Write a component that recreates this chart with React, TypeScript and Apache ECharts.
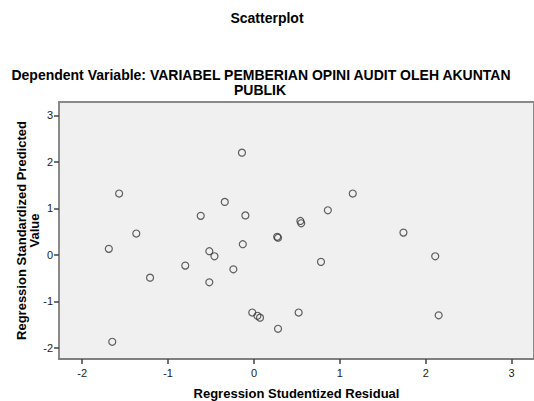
import React, { useEffect, useRef } from "react";
import * as echarts from "echarts";

const residuals = [
  -0.14, -1.57, -0.34, -0.62, -0.10, -1.37, 0.27, 0.28, -0.13, -1.69,
  -0.52, -0.46, -0.80, -0.24, -1.21, -0.52, -0.02, 0.04, 0.07, 0.52,
  0.28, -1.65, 1.15, 0.86, 0.54, 0.55, 1.74, 0.78, 2.11, 2.15,
];
const predicted = [
  2.20, 1.32, 1.14, 0.84, 0.85, 0.46, 0.39, 0.37, 0.23, 0.13,
  0.08, -0.03, -0.23, -0.31, -0.49, -0.59, -1.24, -1.31, -1.35, -1.24,
  -1.59, -1.87, 1.32, 0.96, 0.73, 0.68, 0.48, -0.15, -0.03, -1.30,
];
const xTicks = [-2, -1, 0, 1, 2, 3];
const yTicks = [-2, -1, 0, 1, 2, 3];

const FONT = "'Liberation Sans', Arial, sans-serif";

export default function App() {
  const ref = useRef<HTMLDivElement>(null);
  useEffect(() => {
    if (!ref.current) return;
    const chart = echarts.init(ref.current, undefined, { renderer: "svg" });
    const data = residuals.map((x, i) => [x, predicted[i]]);
    const titleStyle = { fontFamily: FONT, fontSize: 14, fontWeight: "bold", color: "#000", lineHeight: 15 };
    chart.setOption({
      animation: false,
      backgroundColor: "#ffffff",
      title: [
        { text: "Scatterplot", left: 267, top: 10, padding: 0, textAlign: "center", textStyle: titleStyle },
        {
          text: "Dependent Variable: VARIABEL PEMBERIAN OPINI AUDIT OLEH AKUNTAN",
          left: 261,
          top: 67,
          padding: 0,
          textAlign: "center",
          textStyle: titleStyle,
        },
        { text: "PUBLIK", left: 260, top: 82, padding: 0, textAlign: "center", textStyle: titleStyle },
      ],
      grid: {
        left: 59,
        right: 0,
        top: 102,
        bottom: 42,
        outerBoundsMode: "none",
        containLabel: false,
        show: true,
        backgroundColor: "#f0f0f0",
        borderColor: "#8a8a8a",
        borderWidth: 2,
      },
      xAxis: {
        type: "value",
        min: -2.27,
        max: 3.26,
        name: "Regression Studentized Residual",
        nameLocation: "middle",
        nameGap: 28,
        nameMoveOverlap: false,
        nameTextStyle: { fontFamily: FONT, fontSize: 13, fontWeight: "bold", color: "#000" },
        axisLine: { show: true, onZero: false, lineStyle: { color: "#7f7f7f", width: 2 } },
        axisTick: { show: true, customValues: xTicks, length: 5, lineStyle: { color: "#444", width: 1.5 } },
        axisLabel: {
          customValues: xTicks,
          fontFamily: FONT,
          fontSize: 11,
          color: "#222",
          margin: 8,
        },
        splitLine: { show: false },
      },
      yAxis: {
        type: "value",
        min: -2.24,
        max: 3.29,
        name: "Regression Standardized Predicted\nValue",
        nameLocation: "middle",
        nameGap: 18,
        nameMoveOverlap: false,
        nameTextStyle: { fontFamily: FONT, fontSize: 13, fontWeight: "bold", color: "#000", lineHeight: 13 },
        axisLine: { show: true, onZero: false, lineStyle: { color: "#8a8a8a", width: 2 } },
        axisTick: { show: true, customValues: yTicks, length: 5, lineStyle: { color: "#444", width: 1.5 } },
        axisLabel: {
          customValues: yTicks,
          fontFamily: FONT,
          fontSize: 11,
          color: "#222",
          margin: 6,
        },
        splitLine: { show: false },
      },
      series: [
        {
          type: "scatter",
          data,
          symbol: "circle",
          symbolSize: 7,
          itemStyle: { color: "rgba(0,0,0,0)", borderColor: "#3a3a3a", borderWidth: 1.2 },
        },
      ],
    });
    return () => chart.dispose();
  }, []);
  return <div ref={ref} style={{ width: 534, height: 401, position: "absolute", left: 0, top: 0 }} />;
}
